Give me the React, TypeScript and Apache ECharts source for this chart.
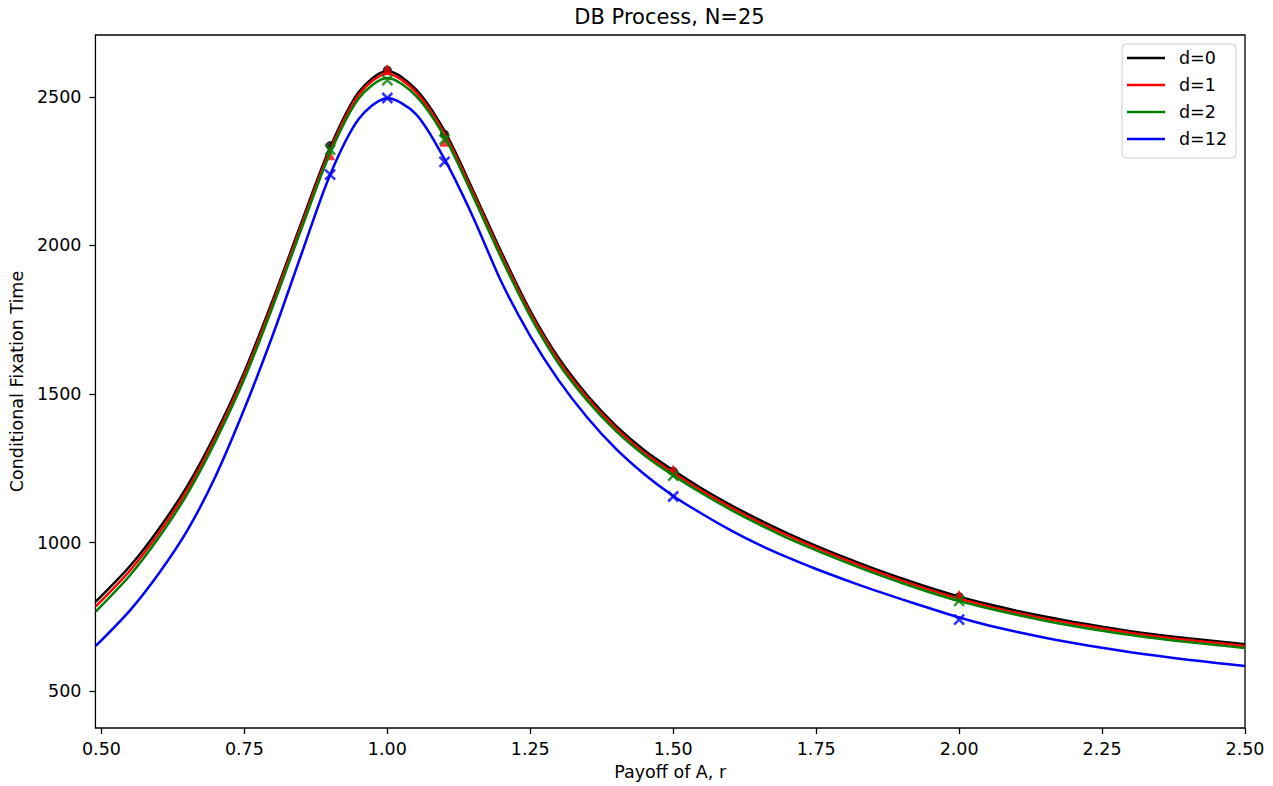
import React, { useEffect, useRef } from "react";
import * as echarts from "echarts";

const rValues = [0.49, 0.55, 0.6, 0.65, 0.7, 0.75, 0.8, 0.85, 0.9, 0.95, 1.0, 1.05, 1.1, 1.15, 1.2, 1.25, 1.3, 1.35, 1.4, 1.45, 1.5, 1.55, 1.6, 1.65, 1.7, 1.75, 1.8, 1.85, 1.9, 1.95, 2.0, 2.05, 2.1, 2.15, 2.2, 2.25, 2.3, 2.35, 2.4, 2.45, 2.5];
const curveD0 = [801, 921, 1045, 1190, 1368, 1575, 1818, 2078, 2330, 2516, 2587, 2525, 2385, 2185, 1975, 1780, 1620, 1495, 1393, 1310, 1243, 1182, 1127, 1077, 1031, 989, 950, 913, 879, 847, 818, 793, 771, 751, 733, 717, 702, 689, 678, 668, 658];
const curveD1 = [785, 906, 1031, 1177, 1356, 1564, 1808, 2069, 2321, 2507, 2578, 2516, 2376, 2176, 1966, 1771, 1611, 1486, 1384, 1301, 1235, 1174, 1119, 1069, 1024, 982, 943, 906, 872, 840, 811, 786, 764, 744, 727, 711, 696, 683, 672, 662, 652];
const curveD2 = [768, 890, 1016, 1163, 1343, 1551, 1796, 2057, 2310, 2494, 2563, 2503, 2365, 2165, 1955, 1761, 1601, 1477, 1375, 1293, 1226, 1166, 1111, 1061, 1015, 974, 935, 898, 864, 832, 803, 779, 757, 737, 719, 703, 689, 676, 665, 655, 645];
const curveD12 = [652, 772, 895, 1040, 1225, 1450, 1700, 1972, 2238, 2425, 2495, 2442, 2290, 2095, 1875, 1695, 1545, 1420, 1315, 1229, 1157, 1097, 1042, 993, 950, 911, 875, 841, 809, 778, 748, 722, 700, 680, 662, 646, 631, 618, 606, 595, 585];

const markerR = [0.9, 1.0, 1.1, 1.5, 2.0];
const markD0 = [2336, 2590, 2374, 1240, 818];
const markD1 = [2303, 2593, 2349, 1246, 824];
const markD2 = [2322, 2556, 2356, 1225, 804];
const markD12 = [2238, 2496, 2281, 1155, 741];

const xTicks = [0.5, 0.75, 1.0, 1.25, 1.5, 1.75, 2.0, 2.25, 2.5];
const yTicks = [500, 1000, 1500, 2000, 2500];

const seriesNames = ["d=0", "d=1", "d=2", "d=12"];
const seriesColors = ["#000000", "#ff0000", "#008000", "#0000ff"];

const FONT = "DejaVu Sans";
const FS = 17.5;
const CROSS = "path://M0,0L10,10M10,0L0,10";

export default function App() {
  const ref = useRef<HTMLDivElement>(null);

  useEffect(() => {
    if (!ref.current) return;
    const chart = echarts.init(ref.current, null, { renderer: "svg" });
    const curves = [curveD0, curveD1, curveD2, curveD12];
    const marks = [markD0, markD1, markD2, markD12];
    const symbols = ["circle", "triangle", CROSS, CROSS];
    const symbolSizes = [9, 10, 10, 10];

    const series: any[] = [];
    curves.forEach((c, i) => {
      const col = seriesColors[i];
      series.push({
        name: seriesNames[i],
        type: "line",
        data: rValues.map((r, k) => [r, c[k]]),
        symbol: "none",
        showSymbol: false,
        smooth: 0.3,
        lineStyle: { color: col, width: 2.5 },
        itemStyle: { color: col },
        z: 2 + i * 2,
        silent: true,
      });
      const isCross = symbols[i] === CROSS;
      series.push({
        name: seriesNames[i] + " sim",
        type: "scatter",
        data: markerR.map((r, k) => [r, marks[i][k]]),
        symbol: symbols[i],
        symbolSize: symbolSizes[i],
        itemStyle: isCross
          ? { color: col, borderColor: col, borderWidth: 2.5 }
          : { color: col },
        z: 3 + i * 2,
        silent: true,
      });
    });

    chart.setOption({
      animation: false,
      backgroundColor: "#ffffff",
      textStyle: { fontFamily: FONT },
      grid: {
        left: 94,
        right: 28,
        top: 35,
        bottom: 57,
        show: true,
        borderColor: "#000000",
        borderWidth: 1.3,
        backgroundColor: "transparent",
      },
      graphic: [
        {
          type: "text",
          x: 669.5,
          y: 17,
          style: {
            text: "DB Process, N=25",
            align: "center",
            verticalAlign: "middle",
            fontFamily: FONT,
            fontSize: 21,
            fill: "#000000",
          },
        },
      ],
      legend: {
        data: seriesNames,
        orient: "vertical",
        left: 1122,
        top: 44,
        icon: "rect",
        itemWidth: 38,
        itemHeight: 2.5,
        itemGap: 9,
        selectedMode: false,
        backgroundColor: "#ffffff",
        borderColor: "#cccccc",
        borderWidth: 1,
        borderRadius: 4,
        padding: [5, 9, 10, 5],
        textStyle: {
          fontFamily: FONT,
          fontSize: FS,
          color: "#000000",
          padding: [0, 0, 0, 9],
        },
      },
      xAxis: {
        type: "value",
        min: 0.4895,
        max: 2.5,
        name: "Payoff of A, r",
        nameLocation: "middle",
        nameGap: 35,
        nameTextStyle: { fontFamily: FONT, fontSize: FS, color: "#000000" },
        axisLine: { show: false },
        axisTick: {
          show: true,
          inside: false,
          length: 6,
          lineStyle: { color: "#000000", width: 1.3 },
          customValues: xTicks,
        },
        axisLabel: {
          customValues: xTicks,
          formatter: (v: number) => v.toFixed(2),
          margin: 12,
          fontFamily: FONT,
          fontSize: FS,
          color: "#000000",
        },
        splitLine: { show: false },
      },
      yAxis: {
        type: "value",
        min: 376,
        max: 2708,
        name: "Conditional Fixation Time",
        nameLocation: "middle",
        nameGap: 67,
        nameTextStyle: { fontFamily: FONT, fontSize: FS, color: "#000000" },
        axisLine: { show: false },
        axisTick: {
          show: true,
          inside: false,
          length: 6,
          lineStyle: { color: "#000000", width: 1.3 },
          customValues: yTicks,
        },
        axisLabel: {
          customValues: yTicks,
          formatter: (v: number) => String(v),
          margin: 14,
          fontFamily: FONT,
          fontSize: FS,
          color: "#000000",
        },
        splitLine: { show: false },
      },
      series,
    });

    return () => {
      chart.dispose();
    };
  }, []);

  return (
    <div
      ref={ref}
      style={{
        position: "absolute",
        left: 0,
        top: 0,
        width: 1273,
        height: 786,
        background: "#ffffff",
      }}
    />
  );
}
